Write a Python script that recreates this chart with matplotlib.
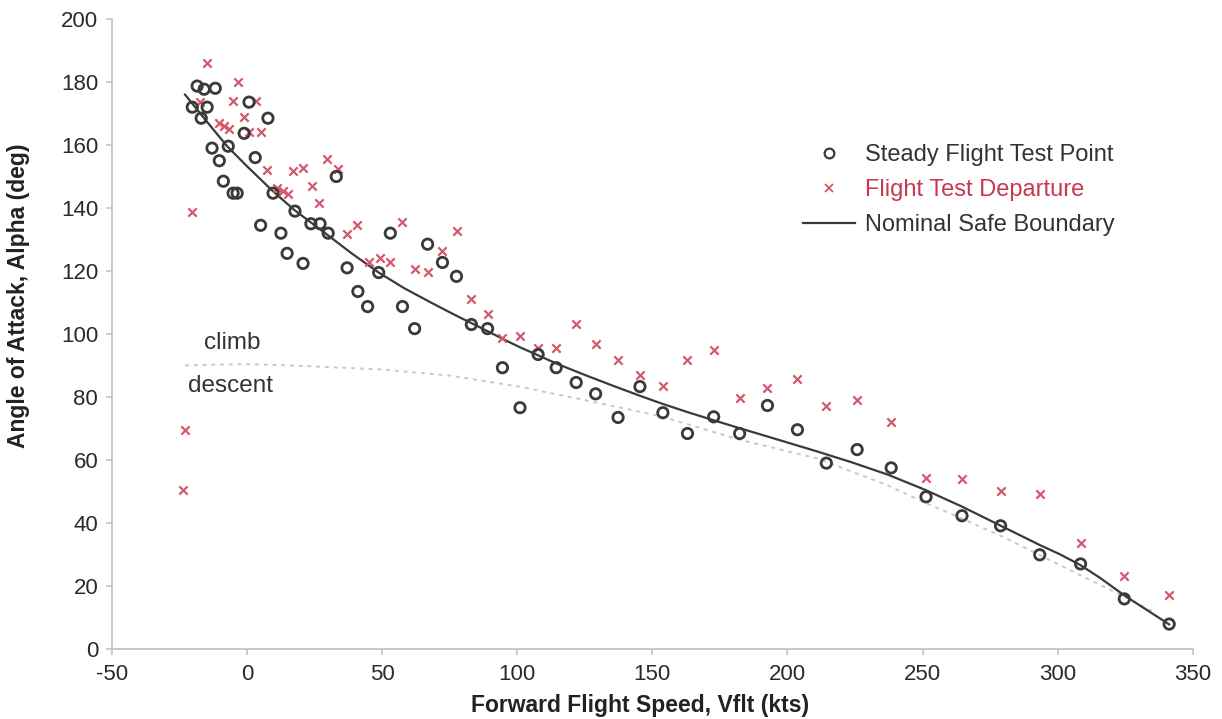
import matplotlib
matplotlib.use("Agg")
import matplotlib.pyplot as plt
from matplotlib.lines import Line2D

plt.rcParams['font.family'] = ['Liberation Sans', 'DejaVu Sans']
plt.rcParams['axes.unicode_minus'] = False

# Steady flight test points (circles)
steady_x = [-18.5, -15.9, -11.8, -20.3, -14.8, -17.0, 0.7, 7.7, -1.1, -7.0, -13.0, -10.3, 3.0,
            -8.8, -5.2, -3.7, 9.6, 17.7, 33.0, 5.0, 12.5, 23.6, 27.0, 30.0, 14.8, 20.7, 37.0,
            53.0, 66.8, 72.3, 77.5, 48.7, 41.0, 44.6, 57.5, 62.0, 83.0, 89.0, 94.5, 101.0,
            107.7, 114.4, 121.8, 129.0, 137.3, 145.4, 153.9, 163.0, 172.7, 182.3, 192.6,
            203.7, 214.4, 225.8, 238.4, 251.3, 264.6, 278.9, 293.4, 308.5, 324.7, 341.3]
steady_y = [178.7, 177.7, 178.0, 172.0, 172.0, 168.5, 173.6, 168.5, 163.7, 159.6, 159.0, 155.0, 156.0,
            148.5, 144.7, 144.7, 144.7, 139.0, 150.0, 134.5, 132.0, 135.0, 135.0, 132.0, 125.6, 122.4, 121.0,
            132.0, 128.5, 122.7, 118.3, 119.5, 113.5, 108.7, 108.7, 101.7, 103.0, 101.7, 89.3, 76.6,
            93.5, 89.3, 84.6, 81.0, 73.5, 83.3, 75.0, 68.4, 73.7, 68.4, 77.3,
            69.6, 59.0, 63.3, 57.5, 48.3, 42.3, 39.1, 29.9, 27.0, 15.9, 7.9]

# Flight test departures (x markers)
depart_x = [-14.8, -3.3, -5.2, 3.3, -1.1, -10.3, -8.5, -6.8, 0.7, 5.2, -17.3, 7.4, 17.0, 20.7,
            29.5, 33.6, 24.0, 11.0, 13.3, 15.3, 26.6, -20.3, 40.6, 37.0, 57.5, 77.5, 45.0, 49.0,
            52.8, 62.0, 66.8, 72.3, 83.0, 89.0, 94.5, 101.0, 107.7, 114.4, 121.8, 129.0, 137.3,
            145.4, 153.9, 163.0, 172.7, 182.3, 192.6, 203.7, 214.4, 225.8, 238.4, 251.3, 264.6,
            279.0, 293.4, 308.5, 324.7, 341.3, -22.9, -23.6]
depart_y = [186.0, 180.0, 174.0, 174.0, 169.0, 167.0, 166.0, 165.0, 164.0, 164.0, 173.6, 152.0, 151.7, 152.6,
            155.5, 152.3, 147.0, 146.5, 145.5, 144.5, 141.5, 138.6, 134.5, 131.6, 135.5, 132.6, 122.7, 124.0,
            122.7, 120.5, 119.6, 126.2, 111.0, 106.2, 98.6, 99.2, 95.4, 95.4, 103.3, 96.7, 91.6,
            87.1, 83.6, 91.6, 94.8, 79.8, 83.0, 85.8, 77.0, 78.9, 71.9, 54.4, 54.1,
            50.2, 49.3, 33.7, 23.2, 17.2, 69.6, 50.5]

# Nominal safe boundary
bound_x = [-23.0, -15.0, -7.4, 0.0, 9.2, 17.4, 29.5, 39.0, 48.7, 58.0, 68.0, 77.0, 85.5, 96.6,
           100.7, 114.8, 125.0, 135.0, 145.0, 153.5, 163.0, 172.7, 181.9, 196.7, 211.4, 224.0,
           237.3, 251.3, 264.6, 279.0, 293.4, 301.0, 308.5, 316.0, 324.7, 333.0, 341.3]
bound_y = [176.0, 167.5, 159.6, 153.2, 145.6, 139.4, 131.6, 125.4, 119.5, 114.6, 110.0, 106.0, 102.4, 97.6,
           95.9, 90.5, 87.0, 83.7, 80.5, 77.9, 75.2, 72.6, 70.2, 66.4, 62.6, 59.2,
           55.3, 50.4, 45.2, 39.1, 33.0, 30.0, 26.6, 22.4, 17.0, 12.4, 7.8]

# Climb / descent divider (dotted)
div_x = [-23.0, -10.0, 0.0, 10.0, 25.0, 50.0, 75.0, 100.7, 125.0, 153.5, 182.0, 211.0, 237.0,
         251.0, 263.0, 280.0, 307.0, 325.0, 335.0]
div_y = [90.0, 90.3, 90.4, 90.2, 89.7, 88.7, 86.8, 83.3, 79.0, 73.8, 66.5, 60.5, 52.0,
         46.4, 42.0, 35.5, 24.0, 16.5, 12.0]

fig = plt.figure(figsize=(12.22, 7.19), dpi=100)
ax = fig.add_axes([0.0917, 0.0974, 0.8843, 0.8762])

ax.plot(div_x, div_y, color='#c8c8c8', lw=1.4, ls=(0, (2, 2.5)), zorder=1)
ax.plot(bound_x, bound_y, color='#3a3a3a', lw=1.6, zorder=2)
ax.scatter(depart_x, depart_y, marker='x', s=36, color='#d9576a', linewidths=1.6, zorder=3)
ax.scatter(steady_x, steady_y, marker='o', s=56, facecolors='none', edgecolors='#3a3a3a',
           linewidths=2.0, zorder=4)

ax.text(-16, 93.5, 'climb', fontsize=17.5, color='#333333', ha='left', va='bottom')
ax.text(-22, 87.0, 'descent', fontsize=17.5, color='#333333', ha='left', va='top')

ax.set_xlim(-50, 350)
ax.set_ylim(0, 200)
ax.set_xticks(range(-50, 351, 50))
ax.set_yticks(range(0, 201, 20))
for s in ['top', 'right']:
    ax.spines[s].set_visible(False)
for s in ['left', 'bottom']:
    ax.spines[s].set_color('#c4c4c4')
    ax.spines[s].set_linewidth(1.3)
ax.tick_params(axis='both', colors='#c4c4c4', length=4, width=1.2, labelsize=16,
               labelcolor='#2a2a2a')
ax.tick_params(axis='x', pad=7)
ax.tick_params(axis='y', pad=6)

ax.set_xlabel('Forward Flight Speed, Vflt (kts)', fontsize=16.5, fontweight='bold',
              color='#222222')
ax.set_ylabel('Angle of Attack, Alpha (deg)', fontsize=16.5, fontweight='bold',
              color='#222222')
ax.xaxis.set_label_coords(0.489, -0.072)
ax.yaxis.set_label_coords(-0.076, 0.56)

handles = [
    Line2D([], [], marker='o', ls='none', markerfacecolor='none', markeredgecolor='#3a3a3a',
           markeredgewidth=1.6, markersize=7),
    Line2D([], [], marker='x', ls='none', color='#d9576a', markeredgewidth=1.3, markersize=6),
    Line2D([], [], color='#3a3a3a', lw=1.6),
]
leg = ax.legend(handles, ['Steady Flight Test Point', 'Flight Test Departure', 'Nominal Safe Boundary'],
                loc='upper left', bbox_to_anchor=(0.62, 0.835), frameon=False, fontsize=17,
                handlelength=2.2, handletextpad=0.4, labelspacing=0.55)
cols = ['#333333', '#c8384f', '#333333']
for t, c in zip(leg.get_texts(), cols):
    t.set_color(c)

fig.savefig('out.png', dpi=100)
